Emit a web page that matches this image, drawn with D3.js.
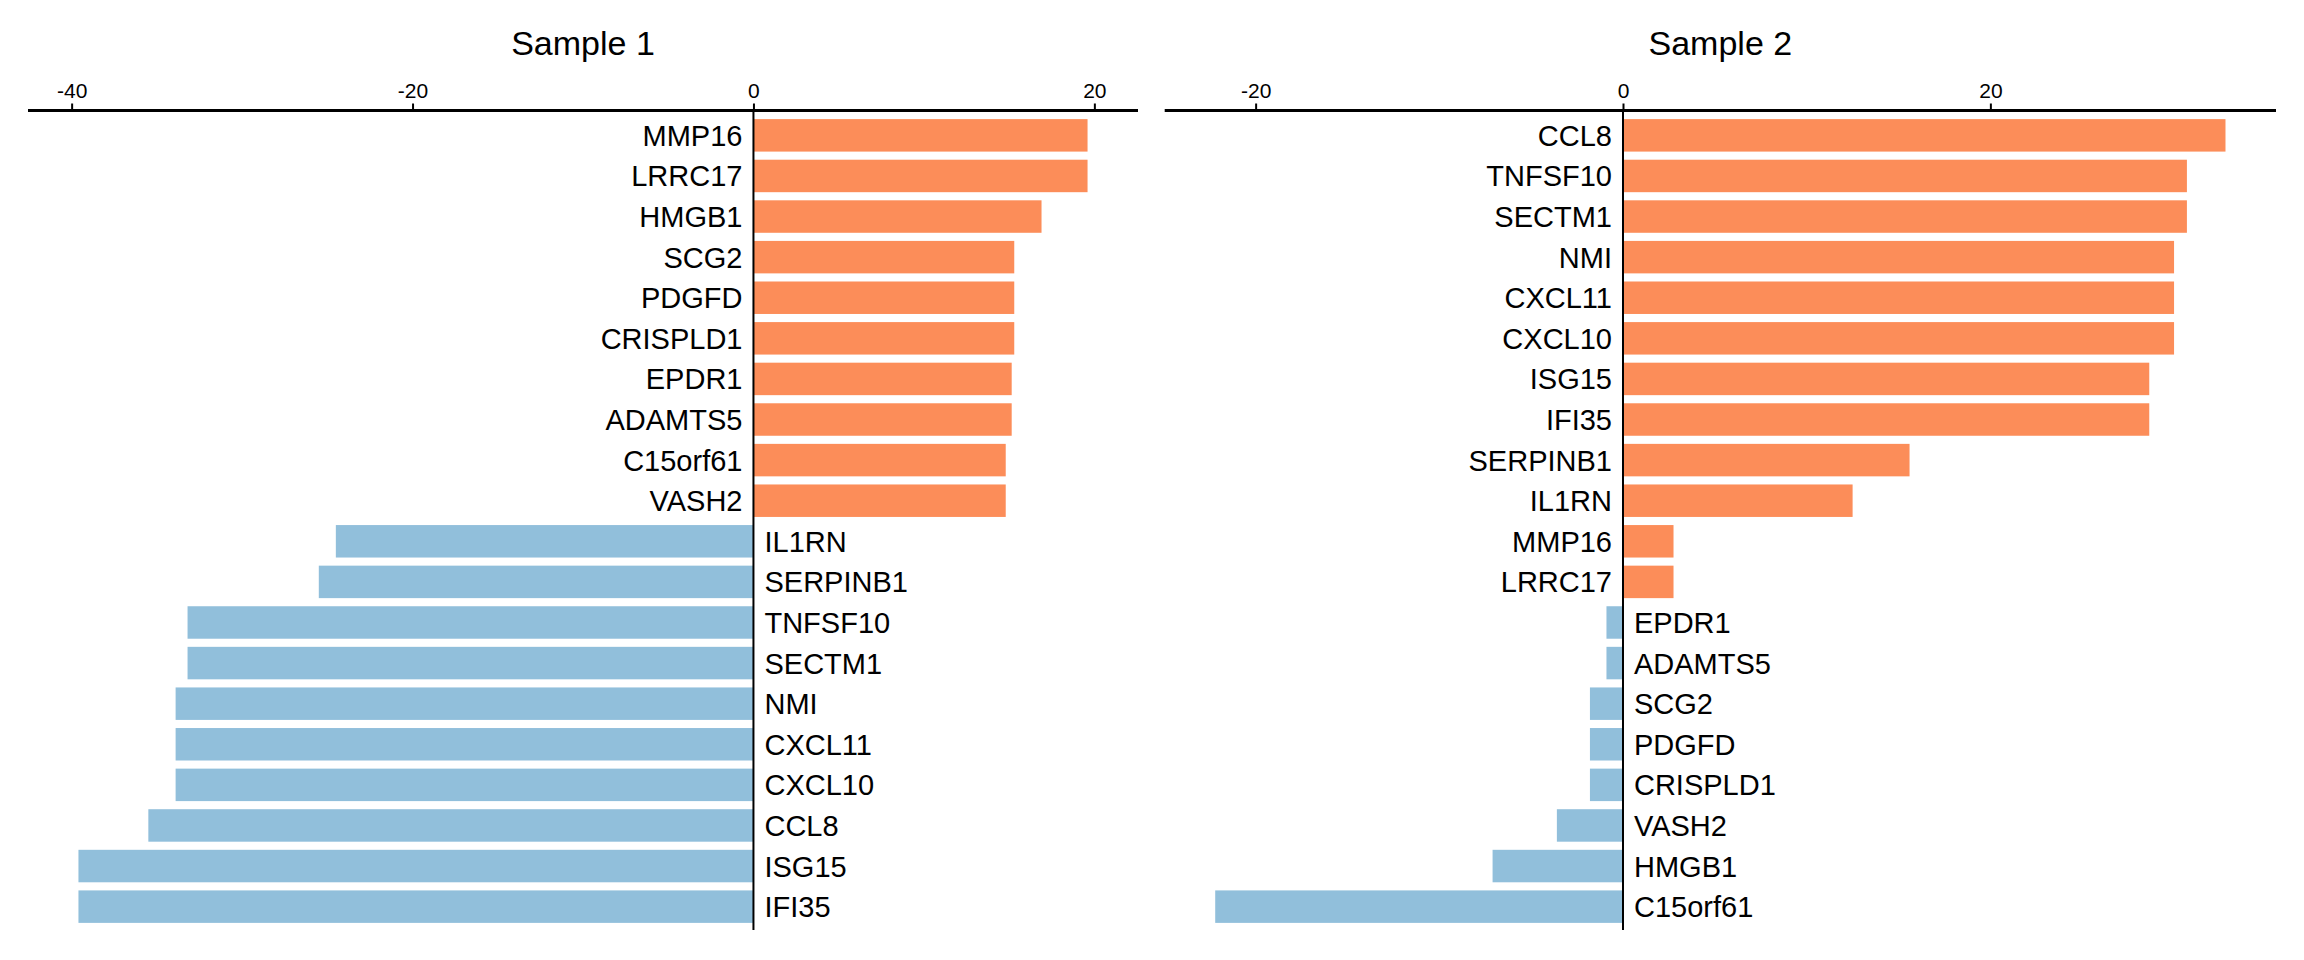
<!DOCTYPE html>
<html>
<head>
<meta charset="utf-8">
<script src="https://cdn.jsdelivr.net/npm/d3@7"></script>
<style>
  html, body { margin: 0; padding: 0; background: #fff; }
  svg { display: block; }
  text { font-family: "Liberation Sans", Arial, Helvetica, sans-serif; fill: #000; }
</style>
</head>
<body>
<svg id="chart" width="2304" height="960"></svg>
<script>
// ---- Data ----
const sample1Genes = ["MMP16","LRRC17","HMGB1","SCG2","PDGFD","CRISPLD1","EPDR1","ADAMTS5","C15orf61","VASH2",
                      "IL1RN","SERPINB1","TNFSF10","SECTM1","NMI","CXCL11","CXCL10","CCL8","ISG15","IFI35"];
const sample1Values = [19.6, 19.6, 16.9, 15.3, 15.3, 15.3, 15.15, 15.15, 14.8, 14.8,
                       -24.5, -25.5, -33.2, -33.2, -33.9, -33.9, -33.9, -35.5, -39.6, -39.6];

const sample2Genes = ["CCL8","TNFSF10","SECTM1","NMI","CXCL11","CXCL10","ISG15","IFI35","SERPINB1","IL1RN",
                      "MMP16","LRRC17","EPDR1","ADAMTS5","SCG2","PDGFD","CRISPLD1","VASH2","HMGB1","C15orf61"];
const sample2Values = [32.8, 30.7, 30.7, 30.0, 30.0, 30.0, 28.65, 28.65, 15.6, 12.5,
                       2.75, 2.75, -0.9, -0.9, -1.8, -1.8, -1.8, -3.6, -7.1, -22.2];

const sample1Ticks = [-40, -20, 0, 20];
const sample2Ticks = [-20, 0, 20];
const titles = ["Sample 1", "Sample 2"];

const posColor = "#FC8D59";
const negColor = "#91BFDB";

// ---- Layout ----
const svg = d3.select("#chart");
const axisY = 110.5;
const plotTop = 111, plotBottom = 931;

const panels = [
  { title: titles[0], genes: sample1Genes, values: sample1Values, ticks: sample1Ticks, x0: 28, x1: 1138 },
  { title: titles[1], genes: sample2Genes, values: sample2Values, ticks: sample2Ticks, x0: 1164.7, x1: 2276 }
];

panels.forEach(p => {
  const data = p.genes.map((g, i) => ({ gene: g, value: p.values[i] }));
  const mn = d3.min(p.values), mx = d3.max(p.values);
  const pad = (mx - mn) * 0.05;
  const x = d3.scaleLinear().domain([mn - pad, mx + pad]).range([p.x0, p.x1]);
  const y = d3.scaleBand().domain(p.genes).range([plotTop, plotBottom])
              .paddingInner(0.2).paddingOuter(0.2);

  const g = svg.append("g");

  // bars
  g.selectAll("rect.bar").data(data).enter().append("rect")
    .attr("class", "bar")
    .attr("x", d => Math.min(x(0), x(d.value)))
    .attr("width", d => Math.abs(x(d.value) - x(0)))
    .attr("y", d => y(d.gene))
    .attr("height", y.bandwidth())
    .attr("fill", d => d.value >= 0 ? posColor : negColor);

  // gene labels
  g.selectAll("text.gene").data(data).enter().append("text")
    .attr("class", "gene")
    .attr("x", d => d.value >= 0 ? x(0) - 11 : x(0) + 11)
    .attr("y", d => y(d.gene) + y.bandwidth() / 2 + 10.5)
    .attr("text-anchor", d => d.value >= 0 ? "end" : "start")
    .style("font-size", "29px")
    .text(d => d.gene);

  // zero line
  g.append("line")
    .attr("x1", x(0)).attr("x2", x(0))
    .attr("y1", axisY).attr("y2", plotBottom - 1)
    .attr("stroke", "#000").attr("stroke-width", 2);

  // top axis
  const axis = d3.axisTop(x).tickValues(p.ticks).tickSize(7).tickPadding(6).tickSizeOuter(0)
                 .tickFormat(d3.format("d"));
  const ag = g.append("g").attr("transform", `translate(0,${axisY})`).call(axis);
  ag.select(".domain").attr("stroke", "#000").attr("stroke-width", 3)
    .attr("d", `M${p.x0},0H${p.x1}`);
  ag.selectAll(".tick line").attr("stroke", "#000").attr("stroke-width", 2);
  ag.selectAll(".tick text")
    .style("font-family", '"Liberation Sans", Arial, Helvetica, sans-serif')
    .style("font-size", "21px").attr("fill", "#000")
    .text(d => d < 0 ? "-" + Math.abs(d) : d);

  // title
  g.append("text")
    .attr("x", (p.x0 + p.x1) / 2)
    .attr("y", 55)
    .attr("text-anchor", "middle")
    .style("font-size", "34px")
    .text(p.title);
});
</script>
</body>
</html>
